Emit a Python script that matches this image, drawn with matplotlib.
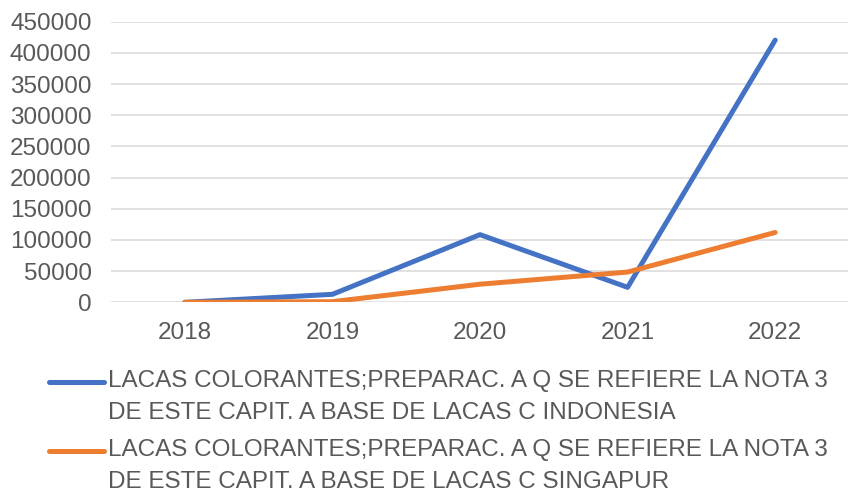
import matplotlib.pyplot as plt
from matplotlib.lines import Line2D

plt.rcParams['font.family'] = ['Liberation Sans', 'DejaVu Sans']

years = ['2018', '2019', '2020', '2021', '2022']
indonesia = [0, 12800, 108500, 24000, 420500]
singapur = [0, 1000, 29000, 48500, 112000]

label_indonesia = 'LACAS COLORANTES;PREPARAC. A Q SE REFIERE LA NOTA 3\nDE ESTE CAPIT. A BASE DE LACAS C INDONESIA'
label_singapur = 'LACAS COLORANTES;PREPARAC. A Q SE REFIERE LA NOTA 3\nDE ESTE CAPIT. A BASE DE LACAS C SINGAPUR'

blue = '#4472C4'
orange = '#ED7D31'
text_color = '#595959'

W, H = 848, 488
fig = plt.figure(figsize=(W / 100, H / 100), dpi=100)
ax = fig.add_axes([111 / W, 1 - 302.3 / H, 738 / W, 280.6 / H])

x = range(len(years))
ax.plot(x, indonesia, color=blue, lw=3.6, solid_capstyle='round', solid_joinstyle='round')
ax.plot(x, singapur, color=orange, lw=3.6, solid_capstyle='round', solid_joinstyle='round')

ax.set_xlim(-0.5, 4.5)
ax.set_ylim(0, 450000)
ax.set_yticks(range(0, 450001, 50000))
ax.set_yticklabels([str(v) for v in range(0, 450001, 50000)])
ax.set_xticks(list(x))
ax.set_xticklabels(years)

ax.grid(axis='y', color='#D9D9D9', lw=1.1)
ax.set_axisbelow(True)
for s in ax.spines.values():
    s.set_visible(False)
ax.tick_params(axis='both', length=0, labelsize=17.5, colors=text_color)
ax.tick_params(axis='y', pad=14)
ax.tick_params(axis='x', pad=14)

# legend below the plot, drawn in figure pixels
def legend_entry(y_px, color, text):
    fig.add_artist(Line2D([49 / W, 104 / W], [1 - y_px / H] * 2, color=color, lw=3.6,
                          solid_capstyle='round', transform=fig.transFigure))
    fig.text(108 / W, 1 - (y_px - 12) / H, text, fontsize=17.5, color=text_color,
             va='top', ha='left', linespacing=1.58)

legend_entry(382.3, blue, label_indonesia)
legend_entry(450.7, orange, label_singapur)

fig.savefig('out.png', dpi=100)
